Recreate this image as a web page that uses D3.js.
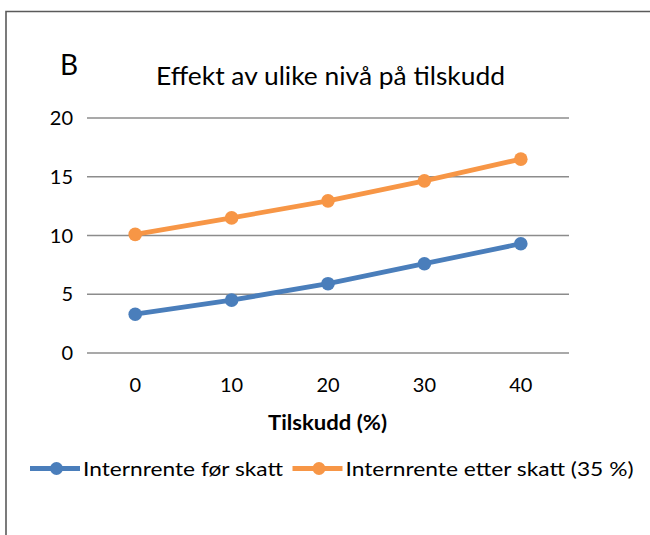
<!DOCTYPE html>
<html>
<head>
<meta charset="utf-8">
<script src="https://cdnjs.cloudflare.com/ajax/libs/d3/7.8.5/d3.min.js"></script>
<style>
body { margin: 0; background: #fff; }
svg { font-family: Lato, "Open Sans", sans-serif; fill: #000; }
</style>
</head>
<body>
<svg width="650" height="535"></svg>
<script>
var svg = d3.select("svg"),
	margin = {top: 118, right: 81, bottom: 182, left: 87},
	width = +svg.attr("width") - margin.left - margin.right,
	height = +svg.attr("height") - margin.top - margin.bottom;

let categories = ["0", "10", "20", "30", "40"];
let before_tax = [3.3, 4.5, 5.9, 7.6, 9.3];
let after_tax = [10.1, 11.5, 12.95, 14.65, 16.5];
let series_names = ["Internrente før skatt", "Internrente etter skatt (35 %)"];
let colors = ["#4a7ebb", "#f79646"];
let y_ticks = [0, 5, 10, 15, 20];

// outer frame (only left and top are visible)
svg.append("path")
	.attr("d", "M6,535 L6,11.5 L650,11.5")
	.attr("fill", "none")
	.attr("stroke", "#5a5a5a")
	.attr("stroke-width", 1.6);

var x = d3.scaleBand()
	.domain(categories)
	.range([0, width]);

var y = d3.scaleLinear()
	.domain([0, 20])
	.range([height, 0]);

var focus = svg.append("g")
	.attr("transform", "translate(" + margin.left + "," + margin.top + ")");

// gridlines
focus.selectAll(".grid")
	.data(y_ticks)
	.enter()
	.append("line")
	.attr("class", "grid")
	.attr("x1", 0)
	.attr("x2", width)
	.attr("y1", function(d) { return y(d); })
	.attr("y2", function(d) { return y(d); })
	.attr("stroke", "#8c8c8c")
	.attr("stroke-width", 1.3);

// y tick labels
focus.selectAll(".ylab")
	.data(y_ticks)
	.enter()
	.append("text")
	.attr("x", -14)
	.attr("y", function(d) { return y(d) + 7; })
	.attr("text-anchor", "end")
	.style("font-size", "20px")
	.text(function(d) { return d; });

// x tick labels
focus.selectAll(".xlab")
	.data(categories)
	.enter()
	.append("text")
	.attr("x", function(d) { return x(d) + x.bandwidth() / 2; })
	.attr("y", height + 38.5)
	.attr("text-anchor", "middle")
	.style("font-size", "20px")
	.text(function(d) { return d; });

var line = d3.line()
	.x(function(d, i) { return x(categories[i]) + x.bandwidth() / 2; })
	.y(function(d) { return y(d); });

[before_tax, after_tax].forEach(function(values, k) {
	focus.append("path")
		.datum(values)
		.attr("fill", "none")
		.attr("stroke", colors[k])
		.attr("stroke-width", 4.8)
		.attr("stroke-linejoin", "round")
		.attr("d", line);
	focus.selectAll(".pt" + k)
		.data(values)
		.enter()
		.append("circle")
		.attr("cx", function(d, i) { return x(categories[i]) + x.bandwidth() / 2; })
		.attr("cy", function(d) { return y(d); })
		.attr("r", 6.8)
		.attr("fill", colors[k]);
});

svg.append("text")
	.attr("x", 60)
	.attr("y", 74.5)
	.style("font-size", "28px")
	.text("B");

svg.append("text")
	.attr("x", 156)
	.attr("y", 85)
	.attr("textLength", 349)
	.attr("lengthAdjust", "spacingAndGlyphs")
	.style("font-size", "25.5px")
	.text("Effekt av ulike nivå på tilskudd");

svg.append("text")
	.attr("x", 268)
	.attr("y", 429.5)
	.attr("textLength", 119)
	.attr("lengthAdjust", "spacingAndGlyphs")
	.style("font-size", "20px")
	.style("font-weight", "bold")
	.text("Tilskudd (%)");

// legend
let legend_x = [30, 292.5];
let legend_w = [200, 288];
series_names.forEach(function(name, k) {
	let g = svg.append("g")
		.attr("transform", "translate(" + legend_x[k] + ",468.5)");
	g.append("line")
		.attr("x1", 0)
		.attr("x2", 50)
		.attr("stroke", colors[k])
		.attr("stroke-width", 4.8);
	g.append("circle")
		.attr("cx", 26.5)
		.attr("r", 6.5)
		.attr("fill", colors[k]);
	g.append("text")
		.attr("x", 53)
		.attr("y", 7)
		.attr("textLength", legend_w[k])
		.attr("lengthAdjust", "spacingAndGlyphs")
		.style("font-size", "20px")
		.text(name);
});
</script>
</body>
</html>
